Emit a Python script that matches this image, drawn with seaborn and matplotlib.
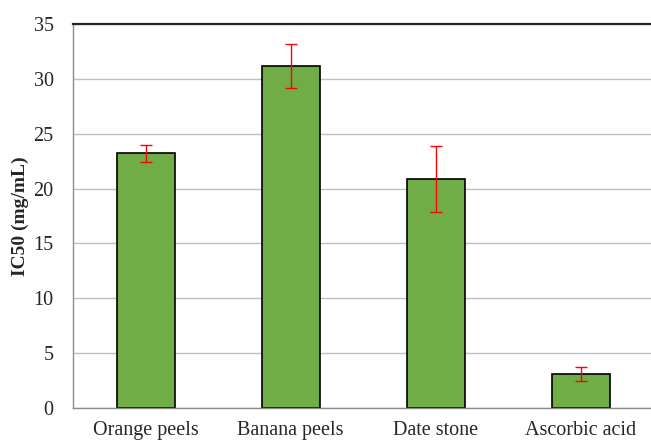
import matplotlib
matplotlib.use("Agg")
import matplotlib.pyplot as plt
import seaborn as sns
import pandas as pd
import numpy as np

categories = ["Orange peels", "Banana peels", "Date stone", "Ascorbic acid"]
ic50 = [23.2, 31.2, 20.9, 3.1]
sd = [0.8, 2.0, 3.0, 0.6]
yticks = [0, 5, 10, 15, 20, 25, 30, 35]

df = pd.DataFrame({"sample": categories, "ic50": ic50, "sd": sd})

sns.set_style("white")
plt.rcParams["font.family"] = ["Liberation Serif", "DejaVu Serif"]

fig = plt.figure(figsize=(6.51, 4.40), dpi=100)
ax = fig.add_axes([73 / 651, 1 - 408 / 440, 580 / 651, 384 / 440])

sns.barplot(data=df, x="sample", y="ic50", color="#70AD47", saturation=1,
            width=0.4, edgecolor="black", linewidth=1.2, errorbar=None, ax=ax)
ax.errorbar(np.arange(len(categories)), df["ic50"], yerr=df["sd"], fmt="none",
            ecolor="#FF0000", elinewidth=1, capsize=4, capthick=1, zorder=5)

ax.set_ylim(0, 35)
ax.set_xlim(-0.5, len(categories) - 0.5)
ax.set_yticks(yticks)
ax.yaxis.grid(True, color="#BFBFBF", linewidth=1)
ax.set_axisbelow(True)

# category boundary ticks on the x axis
ax.set_xticks(np.arange(len(categories)))
ax.set_xticklabels(categories, fontsize=14.5)
ax.set_xticks(np.arange(len(categories) + 1) - 0.5, minor=True)
ax.tick_params(axis="x", which="major", length=0, pad=9)
ax.tick_params(axis="x", which="minor", length=5, color="#8C8C8C", direction="out")
ax.tick_params(axis="y", length=5, color="#8C8C8C", direction="out", labelsize=14.5, pad=9)

ax.set_xlabel("")
ax.set_ylabel("IC50 (mg/mL)", fontsize=14, fontweight="bold")
ax.yaxis.set_label_coords(-44 / 580, 0.5)

for side in ["left", "bottom"]:
    ax.spines[side].set_color("#8C8C8C")
    ax.spines[side].set_linewidth(1)
ax.spines["top"].set_visible(True)
ax.spines["top"].set_color("#262626")
ax.spines["top"].set_linewidth(1.6)
ax.spines["right"].set_visible(False)

fig.savefig("out.png", dpi=100)
